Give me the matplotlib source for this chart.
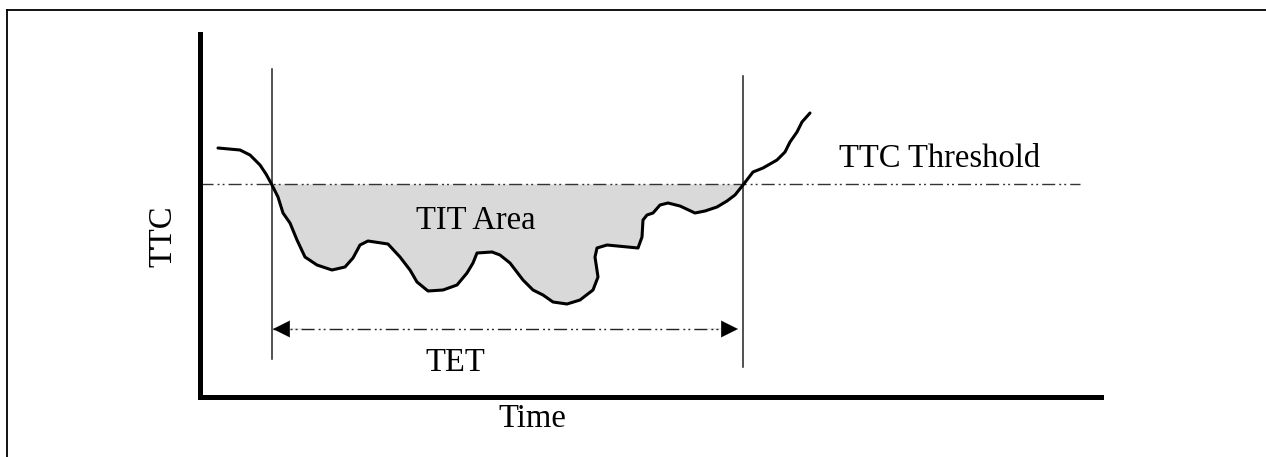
import matplotlib
matplotlib.use("Agg")
import matplotlib.pyplot as plt
import numpy as np
from matplotlib.lines import Line2D

# ---- data (time / TTC in arbitrary units) ----
time = [0.18, 0.40, 0.50, 0.60, 0.66, 0.715, 0.78, 0.83, 0.90, 0.97, 1.05, 1.17,
        1.32, 1.45, 1.53, 1.60, 1.68, 1.88, 2.00, 2.10, 2.17, 2.28, 2.43, 2.57,
        2.67, 2.73, 2.77, 2.92, 3.00, 3.10, 3.23, 3.33, 3.43, 3.53, 3.67, 3.80,
        3.93, 3.98, 3.95, 3.97, 4.07, 4.38, 4.42, 4.43, 4.47, 4.53, 4.60, 4.68,
        4.80, 4.95, 5.05, 5.17, 5.27, 5.35, 5.43, 5.53, 5.63, 5.77, 5.85, 5.90,
        5.97, 6.02, 6.10]
ttc = [2.49, 2.47, 2.42, 2.32, 2.23, 2.13, 2.00, 1.84, 1.74, 1.57, 1.40, 1.32,
       1.27, 1.30, 1.39, 1.52, 1.56, 1.53, 1.40, 1.27, 1.15, 1.06, 1.07, 1.12,
       1.24, 1.34, 1.44, 1.45, 1.42, 1.34, 1.17, 1.07, 1.02, 0.95, 0.93, 0.97,
       1.07, 1.20, 1.40, 1.49, 1.52, 1.49, 1.60, 1.77, 1.82, 1.84, 1.92, 1.94,
       1.91, 1.84, 1.86, 1.90, 1.96, 2.02, 2.12, 2.25, 2.29, 2.37, 2.45, 2.55,
       2.65, 2.75, 2.84]
threshold = 2.13
threshold_span = [0.0, 8.80]
tet_start, tet_end = 0.715, 5.43
left_line_span = [0.38, 3.28]
right_line_span = [0.30, 3.21]
tet_arrow_y = 0.68
tet_arrow_x = [0.73, 5.38]

labels = {"tit": "TIT Area", "thr": "TTC Threshold", "tet": "TET",
          "x": "Time", "y": "TTC"}

# ---- figure ----
W, H = 1266, 457
fig = plt.figure(figsize=(W / 100, H / 100), dpi=100)
plt.rcParams['font.family'] = ['Liberation Serif', 'DejaVu Serif']
fs = 23.5

ax = fig.add_axes([200 / W, (H - 397) / H, 901 / W, 363 / H])
ax.set_xlim(0, 9.01)
ax.set_ylim(0, 3.63)
for s in ['top', 'right']:
    ax.spines[s].set_visible(False)
for s in ['left', 'bottom']:
    ax.spines[s].set_linewidth(3.6)
ax.set_xticks([])
ax.set_yticks([])
ax.patch.set_alpha(0)

t = np.array(time)
v = np.array(ttc)

# TIT area fill
ax.fill_between(t, v, threshold, where=(v <= threshold), interpolate=True,
                color='#d9d9d9', lw=0, zorder=1)

dash = (0, (9.4, 2.9, 1.4, 2.2, 1.4, 2.9))
# threshold line
ax.plot(threshold_span, [threshold, threshold], color='#333333', lw=1.0,
        linestyle=dash, zorder=2, clip_on=False)

# vertical boundary lines
ax.plot([tet_start, tet_start], left_line_span, color='#222222', lw=1.1, zorder=2)
ax.plot([tet_end, tet_end], right_line_span, color='#222222', lw=1.1, zorder=2)

# TTC curve
ax.plot(t, v, color='black', lw=2.2, solid_joinstyle='round',
        solid_capstyle='round', zorder=3)

# TET arrow
ax.plot(tet_arrow_x, [tet_arrow_y, tet_arrow_y], color='#222222', lw=1.0,
        linestyle=dash, zorder=2)
hp = dict(arrowstyle='-|>,head_length=1.2,head_width=0.6', color='black',
          lw=0.1, shrinkA=0, shrinkB=0, mutation_scale=10)
ax.annotate('', xy=(tet_arrow_x[0], tet_arrow_y),
            xytext=(tet_arrow_x[0] + 0.3, tet_arrow_y), arrowprops=hp)
ax.annotate('', xy=(tet_arrow_x[1], tet_arrow_y),
            xytext=(tet_arrow_x[1] - 0.3, tet_arrow_y), arrowprops=hp)

# texts
ax.text(2.76, 3.97 - 2.29, labels["tit"], fontsize=fs, ha='center', va='baseline')
ax.text(7.40, 3.97 - 1.67, labels["thr"], fontsize=fs, ha='center', va='baseline')
ax.text(2.55, 3.97 - 3.71, labels["tet"], fontsize=fs, ha='center', va='baseline')

ax.set_xlabel(labels["x"], fontsize=fs, va='baseline')
ax.xaxis.set_label_coords((532 - 200) / 901, (397 - 427) / 363)
ax.set_ylabel(labels["y"], fontsize=fs, ha='center', va='center')
ax.yaxis.set_label_coords((163 - 200) / 901, (397 - 236) / 363)

# outer frame (left and top edges visible)
fig.add_artist(Line2D([7 / W, 7 / W], [0, 1 - 10 / H], transform=fig.transFigure,
                      color='black', lw=1.3))
fig.add_artist(Line2D([7 / W, 1], [1 - 10 / H, 1 - 10 / H], transform=fig.transFigure,
                      color='black', lw=1.3))

fig.savefig('out.png', dpi=100)
